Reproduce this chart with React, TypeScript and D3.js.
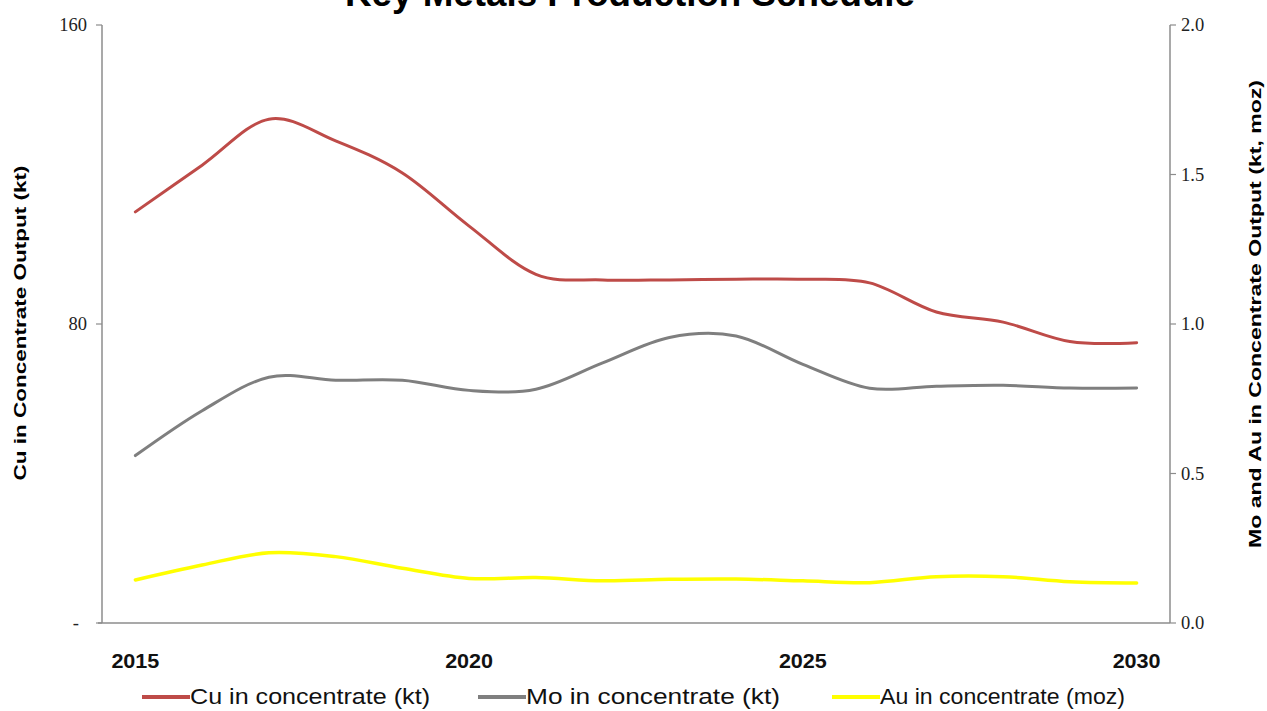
import React from "react";
import * as d3 from "d3";

const years = [2015, 2016, 2017, 2018, 2019, 2020, 2021, 2022, 2023, 2024, 2025, 2026, 2027, 2028, 2029, 2030];
const cuKt = [110, 122.5, 134.8, 129, 120.4, 106.2, 93.3, 91.8, 91.8, 92, 92, 91, 83.2, 80.5, 75.3, 75];
const moKt = [0.56, 0.71, 0.822, 0.812, 0.812, 0.778, 0.782, 0.87, 0.955, 0.96, 0.865, 0.785, 0.792, 0.795, 0.786, 0.786];
const auMoz = [0.144, 0.194, 0.235, 0.222, 0.183, 0.149, 0.152, 0.141, 0.146, 0.147, 0.141, 0.135, 0.155, 0.155, 0.138, 0.134];
const xTickYears = [2015, 2020, 2025, 2030];
const leftTicks = [0, 80, 160];
const rightTicks = [0, 0.5, 1, 1.5, 2];
const legendLabels = ["Cu in concentrate (kt)", "Mo in concentrate (kt)", "Au in concentrate (moz)"];
const colors = ["#BE4B48", "#7F7F7F", "#FFFF00"];

const W = 1267, H = 711;
const L = 102, R = 1170, T = 25, B = 623;

export default function App() {
  const x = d3.scalePoint<number>().domain(years).range([L, R]).padding(0.5);
  const yL = d3.scaleLinear().domain([0, 160]).range([B, T]);
  const yR = d3.scaleLinear().domain([0, 2]).range([B, T]);
  const curve = d3.curveCardinal.tension(0);
  const lineL = d3.line<number>().x((_, i) => x(years[i])!).y((d) => yL(d)).curve(curve);
  const lineR = d3.line<number>().x((_, i) => x(years[i])!).y((d) => yR(d)).curve(curve);

  const axisColor = "#8C8C8C";
  const serif = "'Liberation Serif', 'DejaVu Serif', serif";
  const sans = "'Liberation Sans', Arial, sans-serif";
  const legendX = [142, 478, 832];

  return (
    <svg width={W} height={H} style={{ position: "absolute", left: 0, top: 0, background: "#fff" }}>
      <rect x={0} y={0} width={W} height={H} fill="#fff" />
      <text x={630} y={6} textAnchor="middle" fontFamily={sans} fontWeight="bold" fontSize={36} textLength={570} lengthAdjust="spacingAndGlyphs" fill="#000">
        Key Metals Production Schedule
      </text>

      {/* axes */}
      <line x1={L} x2={L} y1={T} y2={B} stroke={axisColor} strokeWidth={1.5} />
      <line x1={R} x2={R} y1={T} y2={B} stroke={axisColor} strokeWidth={1.5} />
      <line x1={L - 4} x2={R} y1={B} y2={B} stroke={axisColor} strokeWidth={1.5} />

      {leftTicks.map((t) => (
        <g key={"l" + t}>
          <line x1={L - 6} x2={L} y1={yL(t)} y2={yL(t)} stroke={axisColor} strokeWidth={1.2} />
          <text x={t === 0 ? 79 : 87} y={yL(t)} dy="0.35em" textAnchor="end" fontFamily={serif} fontSize={18.5} fill="#222">
            {t === 0 ? "-" : d3.format(",")(t)}
          </text>
        </g>
      ))}
      {rightTicks.map((t) => (
        <g key={"r" + t}>
          <line x1={R} x2={R + 6} y1={yR(t)} y2={yR(t)} stroke={axisColor} strokeWidth={1.2} />
          <text x={1181} y={yR(t)} dy="0.35em" textAnchor="start" fontFamily={serif} fontSize={18.5} fill="#222">
            {d3.format(".1f")(t)}
          </text>
        </g>
      ))}
      {xTickYears.map((yv) => (
        <text key={yv} x={x(yv)!} y={668} textAnchor="middle" fontFamily={sans} fontWeight="bold" fontSize={20} textLength={48} lengthAdjust="spacingAndGlyphs" fill="#111">
          {yv}
        </text>
      ))}

      <text transform={`translate(26,323) rotate(-90)`} textAnchor="middle" fontFamily={sans} fontWeight="bold" fontSize={17} textLength={315} lengthAdjust="spacingAndGlyphs" fill="#000">
        Cu in Concentrate Output (kt)
      </text>
      <text transform={`translate(1261,314) rotate(-90)`} textAnchor="middle" fontFamily={sans} fontWeight="bold" fontSize={17} textLength={468} lengthAdjust="spacingAndGlyphs" fill="#000">
        Mo and Au in Concentrate Output (kt, moz)
      </text>

      {/* series */}
      <path d={lineL(cuKt)!} fill="none" stroke={colors[0]} strokeWidth={3} strokeLinecap="round" />
      <path d={lineR(moKt)!} fill="none" stroke={colors[1]} strokeWidth={3} strokeLinecap="round" />
      <path d={lineR(auMoz)!} fill="none" stroke={colors[2]} strokeWidth={3.5} strokeLinecap="round" />

      {/* legend */}
      {legendLabels.map((lab, i) => (
        <g key={lab}>
          <line x1={legendX[i]} x2={legendX[i] + 48} y1={697} y2={697} stroke={colors[i]} strokeWidth={4} />
          <text x={legendX[i] + 48} y={704} fontFamily={sans} fontSize={22} textLength={i === 2 ? 245 : i === 1 ? 254 : 240} lengthAdjust="spacingAndGlyphs" fill="#111">
            {lab}
          </text>
        </g>
      ))}
    </svg>
  );
}
